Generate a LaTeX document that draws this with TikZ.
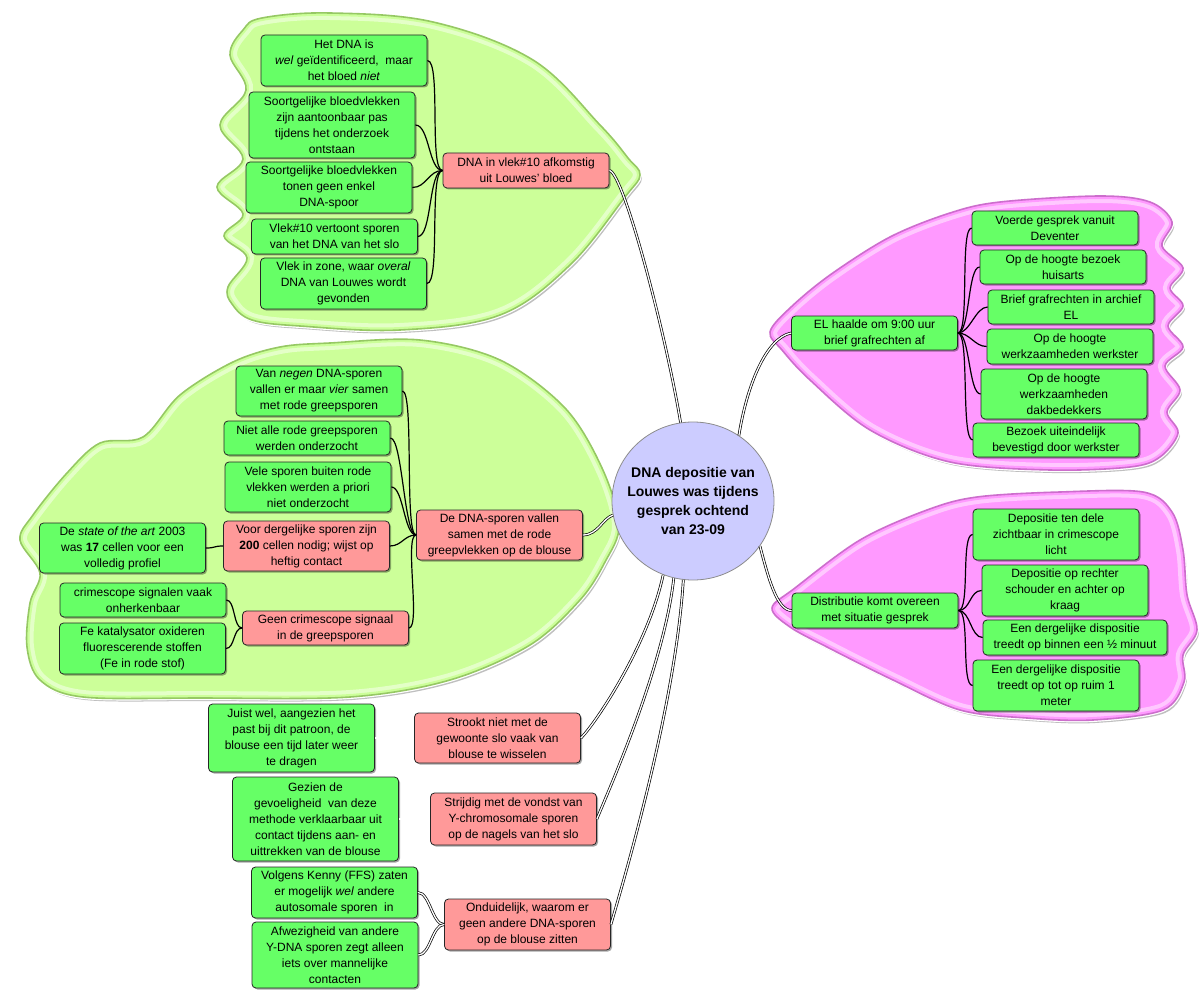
\documentclass[tikz,border=0pt]{standalone}
\usepackage{fontspec}
\setmainfont{Liberation Sans}
\usetikzlibrary{shadows,shapes.geometric}
\definecolor{nodegreen}{RGB}{102,255,102}
\definecolor{nodered}{RGB}{255,153,153}
\definecolor{centerblue}{RGB}{204,204,255}
\definecolor{blobgreen}{RGB}{204,255,153}
\definecolor{blobgreenlight}{RGB}{228,255,200}
\definecolor{blobgreenedge}{RGB}{150,200,100}
\definecolor{blobpink}{RGB}{255,153,255}
\definecolor{blobpinklight}{RGB}{255,200,255}
\definecolor{blobpinkedge}{RGB}{204,110,204}
\begin{document}
\begin{tikzpicture}[x=1pt,y=-1pt,
  box/.style={draw=black!85, line width=0.8pt, rounded corners=4pt, align=center,
    inner sep=0pt, minimum width=166pt, font=\fontsize{12}{16}\selectfont,
    drop shadow={shadow xshift=1.5pt, shadow yshift=-1.5pt, opacity=0.35, fill=black}},
  gbox/.style={box, fill=nodegreen},
  rbox/.style={box, fill=nodered},
  link/.style={draw=black, line width=1.2pt},
  dlink/.style={draw=black, line width=0.7pt, double=white, double distance=1.3pt},
  blobshadow/.style={fill=black!25},
  blobhalo/.style={draw=white, line width=4pt},
]
\fill[white] (0,0) rectangle (1204,1008);
\useasboundingbox (0,0) rectangle (1204,1008);

% ---------- blobs ----------
\def\blobTop{plot[smooth cycle, tension=0.6] coordinates {
 (262,18) (330,13) (433,22) (533,60) (600,125) (628,158) (640,175) (625,197) (570,265)
 (500,315) (400,330) (300,326) (252,320) (232,304) (228,287) (247,258) (224,236) (243,214)
 (217,187) (243,159) (220,125) (246,90) (230,55) (243,30)}}
\def\blobLeft{plot[smooth cycle, tension=0.55] coordinates {
 (280,347) (330,343) (420,340) (500,360) (565,408) (602,468) (619,525) (605,562)
 (580,600) (530,645) (450,680) (350,697) (200,698) (83,697) (40,680) (27,647)
 (30,603) (40,573) (20,540) (33,515) (67,473) (100,443) (143,437) (180,395) (233,362)}}
\def\blobRT{plot[smooth cycle, tension=0.55] coordinates {
 (770,332) (790,308) (830,275) (890,237) (950,213) (1000,202) (1100,196) (1150,202)
 (1172,222) (1162,246) (1183,268) (1170,288) (1183,306) (1168,326) (1183,347) (1165,366)
 (1180,390) (1167,412) (1178,433) (1160,457) (1130,467) (1050,470) (950,462) (870,430)
 (810,380) (782,350)}}
\def\blobRB{plot[smooth cycle, tension=0.55] coordinates {
 (772,608) (795,588) (860,540) (927,510) (977,497) (1060,492) (1143,492) (1172,512)
 (1183,550) (1187,595) (1197,630) (1183,655) (1184,682) (1163,710) (1093,720) (1027,718)
 (960,710) (893,680) (827,647) (790,627)}}

\foreach \b in {\blobTop,\blobLeft} {
  \fill[blobshadow, shift={(2,3)}] \b;
  \draw[blobhalo] \b;
  \fill[blobgreen] \b;
  \begin{scope}
    \clip \b;
    \draw[blobgreenlight, line width=14pt] \b;
    \draw[blobgreen, line width=6pt] \b;
  \end{scope}
  \draw[blobgreenedge, line width=1.6pt] \b;
}
\foreach \b in {\blobRT,\blobRB} {
  \fill[blobshadow, shift={(2,3)}] \b;
  \draw[blobhalo] \b;
  \fill[blobpink] \b;
  \begin{scope}
    \clip \b;
    \draw[blobpinklight, line width=14pt] \b;
    \draw[blobpink, line width=6pt] \b;
  \end{scope}
  \draw[blobpinkedge, line width=1.6pt] \b;
}

% ---------- center ----------
\node[draw=black!45, line width=0.8pt, fill=centerblue, ellipse, minimum width=162pt,
  minimum height=158pt, inner sep=0pt] (CN) at (693,501) {};
\node[align=center, inner sep=0pt, font=\bfseries\fontsize{14}{18.7}\selectfont]
  (CNtext) at (CN.center) {DNA depositie van\\Louwes was tijdens\\gesprek ochtend\\van 23-09};

% ---------- top cluster ----------
\node[rbox, minimum height=35pt] (TH) at (526,170.5) {DNA in vlek\#10 afkomstig\\uit Louwes' bloed};
\node[gbox, minimum height=51pt] (T1) at (344,60.5) {Het DNA is\\\textit{wel} geïdentificeerd,\ \ maar\\het bloed \textit{niet}};
\node[gbox, minimum height=66pt] (T2) at (332,125) {Soortgelijke bloedvlekken\\zijn aantoonbaar pas\\tijdens het onderzoek\\ontstaan};
\node[gbox, minimum height=51pt] (T3) at (329,187.5) {Soortgelijke bloedvlekken\\tonen geen enkel\\DNA-spoor};
\node[gbox, minimum height=35pt] (T4) at (334.5,236.5) {Vlek\#10 vertoont sporen\\van het DNA van het slo};
\node[gbox, minimum height=51pt] (T5) at (343.5,283.5) {Vlek in zone, waar \textit{overal}\\DNA van Louwes wordt\\gevonden};

% ---------- right top cluster ----------
\node[gbox, minimum height=34pt] (RH) at (874.5,333) {EL haalde om 9:00 uur\\brief grafrechten af};
\node[gbox, minimum height=34pt] (R1) at (1055,228) {Voerde gesprek vanuit\\Deventer};
\node[gbox, minimum height=34pt] (R2) at (1063,267) {Op de hoogte bezoek\\huisarts};
\node[gbox, minimum height=34pt] (R3) at (1071,307) {Brief grafrechten in archief\\EL};
\node[gbox, minimum height=35pt] (R4) at (1070,346.5) {Op de hoogte\\werkzaamheden werkster};
\node[gbox, minimum height=50pt] (R5) at (1064,394) {Op de hoogte\\werkzaamheden\\dakbedekkers};
\node[gbox, minimum height=34pt] (R6) at (1056,440) {Bezoek uiteindelijk\\bevestigd door werkster};

% ---------- right bottom cluster ----------
\node[gbox, minimum height=35pt] (BH) at (875,610.5) {Distributie komt overeen\\met situatie gesprek};
\node[gbox, minimum height=51pt] (B1) at (1056,534.5) {Depositie ten dele\\zichtbaar in crimescope\\licht};
\node[gbox, minimum height=51pt] (B2) at (1065,590.5) {Depositie op rechter\\schouder en achter op\\kraag};
\node[gbox, minimum height=35pt, minimum width=184pt] (B3) at (1075,637.5) {Een dergelijke dispositie\\treedt op binnen een ½ minuut};
\node[gbox, minimum height=51pt] (B4) at (1056,685.5) {Een dergelijke dispositie\\treedt op tot op ruim 1\\meter};

% ---------- left cluster ----------
\node[rbox, minimum height=50pt] (LH) at (499.5,535) {De DNA-sporen vallen\\samen met de rode\\greepvlekken op de blouse};
\node[gbox, minimum height=50pt] (L1) at (319,391) {Van \textit{negen} DNA-sporen\\vallen er maar \textit{vier} samen\\met rode greepsporen};
\node[gbox, minimum height=34pt] (L2) at (307,438) {Niet alle rode greepsporen\\werden onderzocht};
\node[gbox, minimum height=50pt] (L3) at (308,487) {Vele sporen buiten rode\\vlekken werden a priori\\niet onderzocht};
\node[rbox, minimum height=50pt] (L4) at (306.5,546) {Voor dergelijke sporen zijn\\\textbf{200} cellen nodig; wijst op\\heftig contact};
\node[gbox, minimum height=50pt] (L4a) at (122.5,548) {De \textit{state of the art} 2003\\was \textbf{17} cellen voor een\\volledig profiel};
\node[rbox, minimum height=34pt] (L5) at (325.5,628) {Geen crimescope signaal\\in de greepsporen};
\node[gbox, minimum height=34pt] (L5a) at (143,600) {crimescope signalen vaak\\onherkenbaar};
\node[gbox, minimum height=51pt] (L5b) at (142.5,648.5) {Fe katalysator oxideren\\fluorescerende stoffen\\(Fe in rode stof)};

% ---------- bottom nodes ----------
\node[rbox, minimum height=50pt] (S1) at (497.5,738) {Strookt niet met de\\gewoonte slo vaak van\\blouse te wisselen};
\node[gbox, minimum height=68pt] (S1a) at (291.5,738) {Juist wel, aangezien het\\past bij dit patroon, de\\blouse een tijd later weer\\te dragen};
\node[rbox, minimum height=52pt] (S2) at (513.5,819) {Strijdig met de vondst van\\Y-chromosomale sporen\\op de nagels van het slo};
\node[gbox, minimum height=84pt] (S2a) at (315.5,819) {Gezien de\\gevoeligheid\ \ van deze\\methode verklaarbaar uit\\contact tijdens aan- en\\uittrekken van de blouse};
\node[rbox, minimum height=51pt] (S3) at (527.5,924.5) {Onduidelijk, waarom er\\geen andere DNA-sporen\\op de blouse zitten};
\node[gbox, minimum height=51pt] (S3a) at (334.5,892.5) {Volgens Kenny (FFS) zaten\\er mogelijk \textit{wel} andere\\autosomale sporen\ \ in};
\node[gbox, minimum height=66pt] (S3b) at (335,955) {Afwezigheid van andere\\Y-DNA sporen zegt alleen\\iets over mannelijke\\contacten};

% ---------- connectors inside clusters ----------
\foreach \c in {T1,T2,T3,T4,T5}
  \draw[link] (TH.west) .. controls +(-14,0) and +(14,0) .. (\c.east);
\foreach \c in {L1,L2,L3,L4,L5}
  \draw[link] (LH.west) .. controls +(-12,0) and +(12,0) .. (\c.east);
\draw[link] (L4.west) .. controls +(-10,0) and +(10,0) .. (L4a.east);
\foreach \c in {L5a,L5b}
  \draw[link] (L5.west) .. controls +(-9,0) and +(9,0) .. (\c.east);
\foreach \c in {R1,R2,R3,R4,R5,R6}
  \draw[link] (RH.east) .. controls +(12,0) and +(-12,0) .. (\c.west);
\foreach \c in {B1,B2,B3,B4}
  \draw[link] (BH.east) .. controls +(12,0) and +(-12,0) .. (\c.west);

\draw[dlink] (S1.west) -- (S1a.east);
\draw[dlink] (S2.west) -- (S2a.east);
\foreach \c in {S3a,S3b}
  \draw[dlink] (S3.west) .. controls +(-12,0) and +(12,0) .. (\c.east);

% ---------- connectors from center ----------
\draw[dlink] (TH.east) .. controls +(14,2) and +(-15,-90) .. (CN.99);
\draw[dlink] (LH.east) .. controls +(15,0) and +(-10,3) .. (CN.190);
\draw[dlink] (CN.55) .. controls +(8,-50) and +(-25,5) .. (RH.west);
\draw[dlink] (CN.-34) .. controls +(8,30) and +(-15,0) .. (BH.west);
\draw[dlink] (CN.248) .. controls +(-15,70) and +(15,-15) .. (S1.east);
\draw[dlink] (CN.256) .. controls +(-10,90) and +(10,-25) .. (S2.east);
\draw[dlink] (CN.263) .. controls +(-8,130) and +(10,-35) .. (S3.east);
\end{tikzpicture}
\end{document}
